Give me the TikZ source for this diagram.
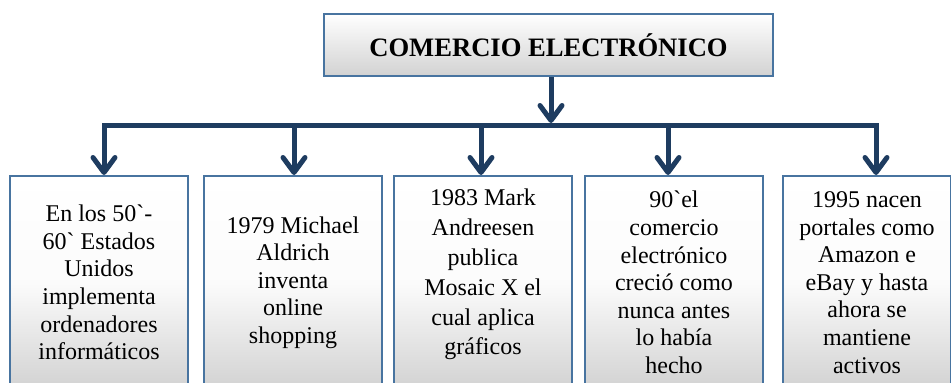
\documentclass[tikz,border=0pt]{standalone}
\usepackage{fontspec}
\setmainfont{Liberation Serif}[Ligatures=TeXOff]
\usetikzlibrary{arrows.meta}
\definecolor{navy}{RGB}{30,60,96}
\definecolor{boxline}{RGB}{72,116,160}
\definecolor{boxbot}{RGB}{210,210,210}
\tikzset{
  card/.style={draw=boxline, line width=2pt, top color=white, bottom color=boxbot,
    middle color=white!92!boxbot, inner sep=0pt, align=center, anchor=north west,
    font=\fontsize{24}{27.6}\selectfont},
  titlebox/.style={draw=boxline, line width=2pt, top color=white, bottom color=boxbot,
    inner sep=0pt, font=\fontsize{26.6}{30}\selectfont\bfseries, anchor=north west},
  arr/.style={draw=navy, line width=5pt, -{Straight Barb[length=15pt,width=22pt,round]}},
  bar/.style={draw=navy, line width=5pt, line cap=rect},
}
\begin{document}
\begin{tikzpicture}[x=1pt,y=-1pt]
\useasboundingbox (0,0) rectangle (951,383);
\clip (0,0) rectangle (951,383);
\node[titlebox, minimum width=449pt, minimum height=62pt] (t) at (323,13) {COMERCIO ELECTRÓNICO};
\node[card, minimum width=178pt, minimum height=213pt] (b1) at (9,175) {En los 50`-\\60` Estados\\Unidos\\implementa\\ordenadores\\informáticos};
\node[card, minimum width=178pt, minimum height=213pt] (b2) at (203,175) {1979 Michael\\Aldrich\\inventa\\online\\shopping};
\node[card, minimum width=178pt, minimum height=213pt, text depth=21pt, font=\fontsize{24}{29.8}\selectfont] (b3) at (393,175) {1983 Mark\\Andreesen\\publica\\Mosaic X el\\cual aplica\\gráficos};
\node[card, minimum width=178pt, minimum height=213pt] (b4) at (584,175) {90`el\\comercio\\electrónico\\creció como\\nunca antes\\lo había\\hecho};
\node[card, minimum width=168pt, minimum height=213pt] (b5) at (782,175) {1995 nacen\\portales como\\Amazon e\\eBay y hasta\\ahora se\\mantiene\\activos};
\coordinate (hub) at (551,123);
\coordinate (h1) at (104,125);
\coordinate (h2) at (294,125);
\coordinate (h3) at (481,125);
\coordinate (h4) at (668,125);
\coordinate (h5) at (876,125);
\draw[bar] (h1) -- (h5);
\draw[arr] (t.south -| hub) -- (hub);
\draw[arr] (h1) -- (h1 |- b1.north);
\draw[arr] (h2) -- (h2 |- b2.north);
\draw[arr] (h3) -- (h3 |- b3.north);
\draw[arr] (h4) -- (h4 |- b4.north);
\draw[arr] (h5) -- (h5 |- b5.north);
\end{tikzpicture}
\end{document}
